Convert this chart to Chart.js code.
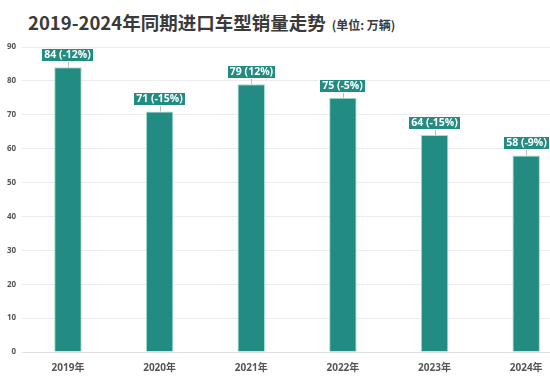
<!DOCTYPE html>
<html><head><meta charset="utf-8">
<script src="https://cdn.jsdelivr.net/npm/chart.js@4/dist/chart.umd.min.js"></script>
<style>
html,body{margin:0;padding:0;background:#fff;overflow:hidden;width:550px;height:378px;}
#title{position:absolute;left:28px;top:9px;font-family:"Noto Sans CJK SC","Open Sans",sans-serif;font-weight:700;font-size:18.5px;color:#3a3a3a;white-space:nowrap;}
#title span{font-size:12px;color:#3a3a3a;margin-left:6px;}
#wrap{position:absolute;left:0;top:0;width:572px;height:378px;}
</style></head>
<body>
<div id="title">2019-2024年同期进口车型销量走势<span>(单位: 万辆)</span></div>
<div id="wrap"><canvas id="c"></canvas></div>
<script>
const categories = ["2019年","2020年","2021年","2022年","2023年","2024年"];
const sales = [84, 71, 79, 75, 64, 58];
const changes = ["-12%","-15%","12%","-5%","-15%","-9%"];
const yTicks = [0,10,20,30,40,50,60,70,80,90];

const TEAL = '#238C82';
const labelPlugin = {
  id:'boxLabels',
  afterDatasetsDraw(chart){
    const ctx = chart.ctx;
    const meta = chart.getDatasetMeta(0);
    ctx.save();
    ctx.font = 'bold 10.5px "Open Sans","Noto Sans CJK SC",sans-serif';
    meta.data.forEach((bar,i)=>{
      const txt = sales[i] + ' (' + changes[i] + ')';
      const w = Math.round(ctx.measureText(txt).width + 6);
      const h = 14;
      const x = bar.x, yTop = bar.y;
      const boxBottom = Math.round(yTop - 5);
      ctx.strokeStyle = '#bbbbbb'; ctx.lineWidth = 1;
      ctx.beginPath(); ctx.moveTo(Math.round(x)+0.5, boxBottom); ctx.lineTo(Math.round(x)+0.5, yTop); ctx.stroke();
      const bx = Math.round(x - w/2);
      ctx.fillStyle = TEAL;
      ctx.fillRect(bx, boxBottom - h, w, h);
      ctx.strokeStyle = '#ffffff';
      ctx.strokeRect(bx+0.5, boxBottom - h + 0.5, w-1, h-1);
      ctx.fillStyle = '#ffffff';
      ctx.textAlign = 'center'; ctx.textBaseline = 'middle';
      ctx.fillText(txt, bx + w/2, boxBottom - h/2 + 0.5);
    });
    ctx.restore();
  }
};

new Chart(document.getElementById('c'), {
  type:'bar',
  data:{ labels:categories, datasets:[{ data:sales, backgroundColor:TEAL, borderColor:'#a8dcd6', borderWidth:1, barPercentage:0.3, categoryPercentage:1 }]},
  options:{
    responsive:true, maintainAspectRatio:false, animation:false,
    layout:{ padding:{ top:47, left:1, right:0, bottom:2 } },
    plugins:{ legend:{display:false}, tooltip:{enabled:false} },
    scales:{
      x:{ grid:{display:false}, border:{color:'#e0e0e0'},
          ticks:{ color:'#555', font:{ family:'"Open Sans","Noto Sans CJK SC",sans-serif', size:10, weight:'bold' }, padding:2 } },
      y:{ min:0, max:90, afterBuildTicks(ax){ ax.ticks = yTicks.map(v=>({value:v})); },
          grid:{ color:'#ececec', drawTicks:false }, border:{display:false},
          ticks:{ color:'#555', font:{ family:'"Open Sans",sans-serif', size:8, weight:'bold' }, padding:6 } }
    }
  },
  plugins:[labelPlugin]
});
</script>
</body></html>
